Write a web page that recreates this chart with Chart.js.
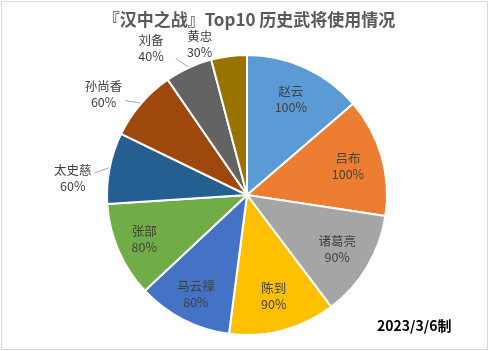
<!DOCTYPE html>
<html>
<head>
<meta charset="utf-8">
<script src="https://cdn.jsdelivr.net/npm/chart.js@4"></script>
<style>
  html, body { margin:0; padding:0; background:#fff; }
  #wrap { position:relative; width:489px; height:351px; }
  #frame { position:absolute; left:1px; top:1px; width:485px; height:347px; border:1px solid #d9d9d9; box-sizing:content-box; }
</style>
</head>
<body>
<div id="wrap">
  <div id="frame"></div>
  <canvas id="c" width="489" height="351"></canvas>
</div>
<script>
// 数据
const generals = ['赵云','吕布','诸葛亮','陈到','马云禄','张部','太史慈','孙尚香','刘备','黄忠'];
const usage = [100,100,90,90,80,80,60,60,40,30];
const sliceColors = ['#5B9BD5','#ED7D31','#A5A5A5','#FFC000','#4472C4','#70AD47','#255E91','#9E480E','#636363','#997300'];
const titleText = '『汉中之战』Top10 历史武将使用情况';
const dateText = '2023/3/6制';

const FONT = '"Noto Sans CJK SC", "Noto Sans", sans-serif';

// 标签绘制：大扇区内标签，小扇区外标签加引线
const labelPlugin = {
  id: 'sliceLabels',
  afterDatasetsDraw(chart){
    const ctx = chart.ctx;
    const meta = chart.getDatasetMeta(0);
    ctx.save();
    ctx.textAlign = 'center';
    ctx.textBaseline = 'middle';
    ctx.font = '12.5px ' + FONT;
    meta.data.forEach((arc, i) => {
      const p = arc.getProps(['x','y','startAngle','endAngle','outerRadius'], true);
      const mid = (p.startAngle + p.endAngle) / 2;
      const r = p.outerRadius;
      const outside = usage[i] <= 60;
      let lx, ly;
      ctx.fillStyle = '#404040';
      if (!outside) {
        const k = usage[i] <= 80 ? 0.8 : 0.75;
        lx = p.x + Math.cos(mid) * r * k;
        ly = p.y + Math.sin(mid) * r * k;
      } else {
        const a = mid - 0.1 - (60 - usage[i]) * 0.0025;
        const k = usage[i] <= 30 ? 1.13 : 1.25;
        lx = p.x + Math.cos(a) * r * k;
        ly = p.y + Math.sin(a) * r * k;
        // 引线
        if (usage[i] > 30) {
          ctx.strokeStyle = '#a6a6a6';
          ctx.lineWidth = 1;
          ctx.beginPath();
          ctx.moveTo(p.x + Math.cos(mid) * (r + 1), p.y + Math.sin(mid) * (r + 1));
          ctx.lineTo(p.x + Math.cos(mid - 0.05) * r * 1.1, p.y + Math.sin(mid - 0.05) * r * 1.1);
          ctx.stroke();
        }
      }
      ctx.fillText(generals[i], lx, ly - 8);
      ctx.fillText(usage[i] + '%', lx, ly + 8);
    });
    ctx.restore();
  }
};

const textPlugin = {
  id: 'extraText',
  afterDraw(chart){
    const ctx = chart.ctx;
    ctx.save();
    ctx.fillStyle = '#595959';
    ctx.textAlign = 'center';
    ctx.textBaseline = 'middle';
    ctx.font = 'bold 17px ' + FONT;
    ctx.fillText(titleText, 249, 20);
    ctx.fillStyle = '#000';
    ctx.textAlign = 'left';
    ctx.font = 'bold 14px ' + FONT;
    ctx.fillText(dateText, 377, 326);
    ctx.restore();
  }
};

new Chart(document.getElementById('c'), {
  type: 'pie',
  data: {
    labels: generals,
    datasets: [{
      data: usage,
      backgroundColor: sliceColors,
      borderColor: '#ffffff',
      borderWidth: 2
    }]
  },
  options: {
    responsive: false,
    animation: false,
    layout: { padding: { top: 54, bottom: 15, left: 106, right: 101 } },
    plugins: {
      legend: { display: false },
      tooltip: { enabled: false },
      title: { display: false }
    }
  },
  plugins: [labelPlugin, textPlugin]
});
</script>
</body>
</html>
